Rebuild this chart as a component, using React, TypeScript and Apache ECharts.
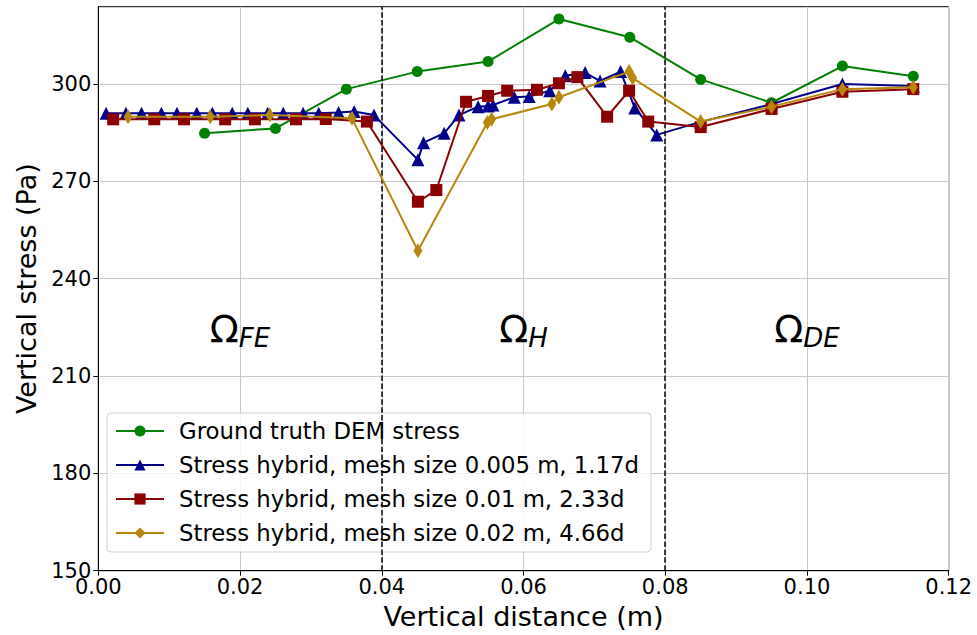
import React, { useEffect, useRef } from "react";
import * as echarts from "echarts";

// ---- data ----
const groundX = [0.015, 0.025, 0.035, 0.045, 0.055, 0.065, 0.075, 0.085, 0.095, 0.105, 0.115];
const groundY = [284.8, 286.3, 298.4, 303.8, 306.9, 320.0, 314.4, 301.4, 294.2, 305.5, 302.4];

const fineX = [
  0.0011, 0.0039, 0.0061, 0.0089, 0.0111, 0.0139, 0.0161, 0.0189, 0.0211, 0.0239, 0.0261, 0.0289,
  0.0311, 0.0339, 0.0361, 0.0389, 0.0451, 0.0459, 0.0488, 0.0509, 0.0536, 0.055, 0.0557, 0.0587,
  0.0608, 0.0637, 0.0659, 0.0687, 0.0708, 0.0737, 0.0757, 0.0788, 0.085, 0.095, 0.105, 0.115,
];
const fineY = [
  291.0, 291.0, 291.0, 291.0, 291.0, 291.0, 291.0, 291.0, 291.0, 291.0, 291.0, 291.0,
  291.0, 291.2, 291.5, 290.4, 276.6, 281.9, 284.8, 290.4, 293.0, 293.2, 293.5, 295.9,
  296.1, 297.9, 302.5, 303.5, 300.9, 303.8, 292.6, 284.3, 288.3, 293.8, 300.0, 299.4,
];

const midX = [
  0.0021, 0.0079, 0.0121, 0.0179, 0.0221, 0.0279, 0.0321, 0.0379, 0.0451, 0.0477, 0.0519, 0.055,
  0.0577, 0.0619, 0.065, 0.0676, 0.0718, 0.0749, 0.0776, 0.085, 0.095, 0.105, 0.115,
];
const midY = [
  289.1, 289.1, 289.1, 289.1, 289.1, 289.1, 289.2, 288.4, 263.7, 267.3, 294.5, 296.3,
  297.9, 298.2, 300.2, 302.1, 289.9, 297.9, 288.4, 286.7, 292.3, 297.6, 298.4,
];

const coarseX = [0.0042, 0.0158, 0.0242, 0.0358, 0.0451, 0.0549, 0.0555, 0.064, 0.065, 0.0749, 0.0754, 0.085, 0.095, 0.105, 0.115];
const coarseY = [289.9, 289.9, 290.4, 289.4, 248.6, 288.1, 289.1, 293.8, 295.9, 303.8, 301.8, 288.4, 293.0, 298.4, 299.0];

const seriesNames = [
  "Ground truth DEM stress",
  "Stress hybrid, mesh size 0.005 m, 1.17d",
  "Stress hybrid, mesh size 0.01 m, 2.33d",
  "Stress hybrid, mesh size 0.02 m, 4.66d",
];

const xTicks = [0, 0.02, 0.04, 0.06, 0.08, 0.1, 0.12];
const yTicks = [150, 180, 210, 240, 270, 300];
const boundaryX = [0.04, 0.08];

const regionX = [0.02, 0.06, 0.1];
const regionY = [224.5, 224.5, 224.5];
const regionSub = ["FE", "H", "DE"];

const zip = (xs: number[], ys: number[]) => xs.map((x, i) => [x, ys[i]]);

const FONT = "DejaVu Sans";

export default function App() {
  const ref = useRef<HTMLDivElement>(null);

  useEffect(() => {
    if (!ref.current) return;
    const chart = echarts.init(ref.current, null, { renderer: "svg" });

    const lineBase = (name: string, color: string, data: number[][], symbol: string, size: any, z: number) => ({
      name,
      type: "line",
      data,
      symbol,
      symbolSize: size,
      showAllSymbol: true,
      z,
      lineStyle: { color, width: 2 },
      itemStyle: { color, borderWidth: 0 },
      emphasis: { disabled: true },
    });

    const option: any = {
      animation: false,
      backgroundColor: "#ffffff",
      textStyle: { fontFamily: FONT },
      grid: {
        left: 98.3,
        right: 28.3,
        top: 6.7,
        bottom: 64.3,
        show: true,
        borderColor: "#000000",
        borderWidth: 1,
        backgroundColor: "transparent",
        containLabel: false,
      },
      xAxis: {
        type: "value",
        min: 0,
        max: 0.12,
        interval: 0.02,
        name: "Vertical distance (m)",
        nameLocation: "middle",
        nameGap: 32,
        nameTextStyle: { fontFamily: FONT, fontSize: 27, color: "#000" },
        axisLine: { show: true, onZero: false, lineStyle: { color: "#000", width: 1 } },
        axisTick: { show: true, inside: false, length: 5, lineStyle: { color: "#000" }, customValues: xTicks },
        axisLabel: {
          fontFamily: FONT,
          fontSize: 21,
          color: "#000",
          margin: 6,
          customValues: xTicks,
          formatter: (v: number) => v.toFixed(2),
        },
        splitLine: { show: true, lineStyle: { color: "#c8c8c8", width: 1 } },
      },
      yAxis: {
        type: "value",
        min: 150,
        max: 323.8,
        interval: 30,
        name: "Vertical stress (Pa)",
        nameLocation: "middle",
        nameGap: 57,
        nameTextStyle: { fontFamily: FONT, fontSize: 27, color: "#000" },
        axisLine: { show: true, onZero: false, lineStyle: { color: "#000", width: 1 } },
        axisTick: { show: true, inside: false, length: 5, lineStyle: { color: "#000" }, customValues: yTicks },
        axisLabel: {
          fontFamily: FONT,
          fontSize: 21,
          color: "#000",
          margin: 7,
          customValues: yTicks,
        },
        splitLine: { show: true, lineStyle: { color: "#c8c8c8", width: 1 } },
      },
      legend: {
        data: seriesNames,
        orient: "vertical",
        left: 107,
        top: 413,
        itemWidth: 48,
        itemHeight: 14,
        itemGap: 10,
        padding: [6, 12, 7, 8],
        backgroundColor: "rgba(255,255,255,0.8)",
        borderColor: "#d0d0d0",
        borderWidth: 1,
        borderRadius: 4,
        selectedMode: false,
        textStyle: { fontFamily: FONT, fontSize: 22.8, color: "#000", lineHeight: 24, padding: [0, 0, 0, 10] },
      },
      series: [
        {
          ...lineBase(seriesNames[0], "#008000", zip(groundX, groundY), "circle", 11, 2),
          markLine: {
            silent: true,
            symbol: ["none", "none"],
            label: { show: false },
            lineStyle: { color: "#000", type: [5.5, 2.4], width: 1.5 },
            data: boundaryX.map((x) => ({ xAxis: x })),
          },
        },
        lineBase(seriesNames[1], "#00008B", zip(fineX, fineY), "triangle", 13, 3),
        lineBase(seriesNames[2], "#8B0000", zip(midX, midY), "rect", 12, 4),
        lineBase(seriesNames[3], "#B8860B", zip(coarseX, coarseY), "diamond", [9, 15], 5),
        {
          name: "regions",
          type: "scatter",
          symbolSize: 0,
          silent: true,
          z: 6,
          itemStyle: { opacity: 1, color: "#000" },
          data: regionX.map((x, i) => ({ value: [x, regionY[i]], sub: regionSub[i] })),
          label: {
            show: true,
            position: "inside",
            opacity: 1,
            textBorderWidth: 0,
            formatter: (p: any) => `{o|Ω}{s|${p.data.sub}}`,
            rich: {
              o: { fontFamily: FONT, fontSize: 38, color: "#000", opacity: 1, textBorderWidth: 0 },
              s: {
                fontFamily: FONT,
                fontSize: 26,
                fontStyle: "italic",
                color: "#000",
                opacity: 1,
                textBorderWidth: 0,
                padding: [19, 0, 0, 0],
              },
            },
          },
        },
      ],
    };

    chart.setOption(option);
    return () => chart.dispose();
  }, []);

  return <div ref={ref} style={{ position: "fixed", left: 0, top: 0, width: 977, height: 635 }} />;
}
